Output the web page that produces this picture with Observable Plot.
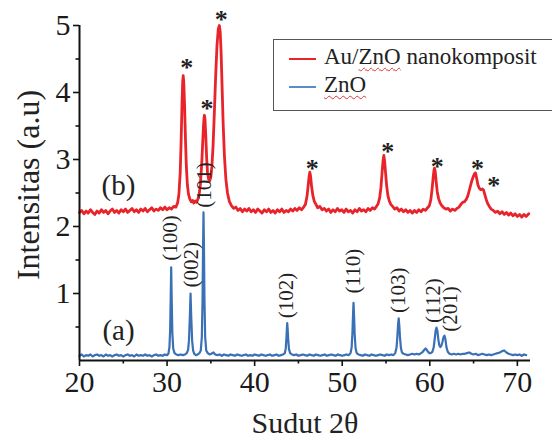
<!DOCTYPE html>
<html><head><meta charset="utf-8">
<script src="https://cdn.jsdelivr.net/npm/d3@7"></script>
<script src="https://cdn.jsdelivr.net/npm/@observablehq/plot@0.6"></script>
<style>
html,body{margin:0;padding:0;background:#fff;overflow:hidden;}
#wrap{position:relative;width:552px;height:442px;font-family:"Liberation Serif","Times New Roman",serif;overflow:hidden;}
#legend{position:absolute;left:273px;top:39px;width:320px;height:72px;border:1.5px solid #555;box-sizing:border-box;background:#fff;}
#legend .ln{position:absolute;left:15px;width:27px;height:2px;}
#legend .tx{position:absolute;left:50px;font-size:23px;line-height:23px;color:#222;white-space:nowrap;}
.sq{text-decoration:underline wavy #e0343a;text-decoration-thickness:1px;text-underline-offset:3px;}
</style>
</head><body>
<div id="wrap"><div id="chart"></div>
<div id="legend">
  <div class="ln" style="top:18px;background:#e8242a"></div>
  <div class="tx" style="top:5px">Au/<span class="sq">ZnO</span> nanokomposit</div>
  <div class="ln" style="top:46px;background:#5a8ccc"></div>
  <div class="tx" style="top:33px"><span class="sq">ZnO</span></div>
</div>
</div>
<script>
// Au/ZnO nanokomposit (curve b): [2θ, intensity]
const auZnO = [
[20.0,2.21],[20.25,2.24],[20.5,2.19],[20.75,2.23],[21.0,2.20],[21.25,2.25],[21.5,2.21],[21.75,2.18],[22.0,2.23],[22.25,2.20],
[22.5,2.25],[22.75,2.21],[23.0,2.24],[23.25,2.19],[23.5,2.23],[23.75,2.26],[24.0,2.21],[24.25,2.24],[24.5,2.20],[24.75,2.25],
[25.0,2.22],[25.25,2.26],[25.5,2.21],[25.75,2.24],[26.0,2.27],[26.25,2.22],[26.5,2.25],[26.75,2.21],[27.0,2.26],[27.25,2.23],
[27.5,2.27],[27.75,2.22],[28.0,2.25],[28.25,2.28],[28.5,2.23],[28.75,2.26],[29.0,2.24],[29.25,2.28],[29.5,2.25],[29.75,2.29],
[30.0,2.25],[30.25,2.28],[30.5,2.26],[30.75,2.30],[31.0,2.29],[31.2,2.35],[31.35,2.48],[31.5,2.80],[31.6,3.25],[31.7,3.80],
[31.78,4.15],[31.84,4.25],[31.9,4.17],[32.0,3.80],[32.1,3.30],[32.2,2.90],[32.32,2.62],[32.45,2.48],[32.6,2.41],[32.75,2.37],
[32.9,2.39],[33.05,2.35],[33.2,2.38],[33.35,2.36],[33.5,2.40],[33.65,2.47],[33.8,2.62],[33.95,2.92],[34.05,3.20],[34.15,3.48],
[34.22,3.62],[34.27,3.66],[34.33,3.60],[34.42,3.35],[34.52,3.02],[34.62,2.80],[34.75,2.70],[34.87,2.68],[35.0,2.74],[35.12,2.90],
[35.25,3.20],[35.4,3.70],[35.55,4.25],[35.7,4.70],[35.85,4.95],[35.97,5.00],[36.07,4.90],[36.17,4.60],[36.28,4.10],[36.4,3.55],
[36.55,3.05],[36.72,2.70],[36.9,2.50],[37.1,2.38],[37.35,2.31],[37.6,2.27],[37.85,2.29],[38.1,2.24],[38.35,2.27],[38.6,2.22],
[38.85,2.26],[39.1,2.23],[39.35,2.27],[39.6,2.22],[39.85,2.25],[40.1,2.21],[40.35,2.26],[40.6,2.23],[40.85,2.20],[41.1,2.25],
[41.35,2.22],[41.6,2.26],[41.85,2.21],[42.1,2.24],[42.35,2.20],[42.6,2.25],[42.85,2.22],[43.1,2.26],[43.35,2.21],[43.6,2.24],
[43.85,2.22],[44.1,2.26],[44.35,2.23],[44.6,2.27],[44.85,2.24],[45.1,2.28],[45.35,2.25],[45.6,2.29],[45.8,2.33],[45.98,2.45],
[46.12,2.62],[46.22,2.75],[46.3,2.81],[46.38,2.76],[46.5,2.60],[46.65,2.46],[46.8,2.38],[47.0,2.33],[47.2,2.28],[47.45,2.30],
[47.7,2.25],[47.95,2.27],[48.2,2.23],[48.45,2.26],[48.7,2.21],[48.95,2.25],[49.2,2.22],[49.45,2.27],[49.7,2.23],[49.95,2.25],
[50.2,2.21],[50.45,2.26],[50.7,2.22],[50.95,2.24],[51.2,2.20],[51.45,2.25],[51.7,2.22],[51.95,2.27],[52.2,2.23],[52.45,2.25],
[52.7,2.22],[52.95,2.27],[53.2,2.24],[53.45,2.28],[53.7,2.26],[53.9,2.30],[54.1,2.34],[54.28,2.43],[54.42,2.58],[54.55,2.80],
[54.66,2.98],[54.75,3.06],[54.84,2.98],[54.95,2.80],[55.08,2.60],[55.22,2.46],[55.38,2.38],[55.55,2.33],[55.75,2.30],[56.0,2.26],
[56.25,2.28],[56.5,2.23],[56.75,2.26],[57.0,2.22],[57.25,2.25],[57.5,2.21],[57.75,2.24],[58.0,2.20],[58.25,2.24],[58.5,2.21],
[58.75,2.25],[59.0,2.22],[59.25,2.26],[59.5,2.24],[59.75,2.28],[59.95,2.31],[60.12,2.40],[60.27,2.57],[60.4,2.75],[60.48,2.84],
[60.54,2.87],[60.62,2.82],[60.72,2.68],[60.85,2.52],[61.0,2.42],[61.18,2.35],[61.38,2.31],[61.6,2.28],[61.85,2.26],[62.1,2.27],
[62.35,2.23],[62.6,2.26],[62.85,2.24],[63.1,2.27],[63.35,2.29],[63.55,2.33],[63.75,2.36],[63.95,2.37],[64.15,2.40],[64.35,2.46],
[64.55,2.56],[64.75,2.66],[64.95,2.74],[65.12,2.79],[65.22,2.80],[65.35,2.72],[65.5,2.62],[65.65,2.57],[65.82,2.55],[66.0,2.56],
[66.15,2.54],[66.3,2.47],[66.45,2.40],[66.62,2.34],[66.8,2.30],[67.0,2.26],[67.25,2.24],[67.5,2.21],[67.75,2.23],[68.0,2.19],
[68.25,2.22],[68.5,2.18],[68.75,2.21],[69.0,2.17],[69.25,2.20],[69.5,2.16],[69.75,2.19],[70.0,2.15],[70.25,2.18],[70.5,2.14],
[70.75,2.18],[71.0,2.15],[71.3,2.19]
];
// ZnO (curve a): [2θ, intensity]
const znO = [
[20.0,0.07],[20.25,0.09],[20.5,0.06],[20.75,0.08],[21.0,0.07],[21.25,0.09],[21.5,0.06],[21.75,0.08],[22.0,0.09],[22.25,0.07],
[22.5,0.08],[22.75,0.06],[23.0,0.09],[23.25,0.07],[23.5,0.08],[23.75,0.06],[24.0,0.08],[24.25,0.09],[24.5,0.07],[24.75,0.08],
[25.0,0.06],[25.25,0.08],[25.5,0.09],[25.75,0.07],[26.0,0.08],[26.25,0.06],[26.5,0.09],[26.75,0.07],[27.0,0.08],[27.25,0.07],
[27.5,0.09],[27.75,0.07],[28.0,0.08],[28.25,0.06],[28.5,0.08],[28.75,0.09],[29.0,0.07],[29.25,0.08],[29.5,0.07],[29.75,0.09],
[30.0,0.08],[30.15,0.10],[30.27,0.20],[30.35,0.45],[30.41,0.90],[30.47,1.39],[30.53,0.90],[30.6,0.42],[30.7,0.18],[30.85,0.11],
[31.05,0.09],[31.3,0.08],[31.55,0.09],[31.8,0.08],[32.05,0.09],[32.25,0.11],[32.4,0.16],[32.5,0.30],[32.6,0.65],[32.68,1.00],
[32.76,0.65],[32.86,0.30],[32.97,0.15],[33.1,0.10],[33.3,0.08],[33.5,0.09],[33.7,0.11],[33.85,0.15],[33.97,0.35],[34.05,0.90],
[34.11,1.70],[34.16,2.21],[34.21,1.70],[34.27,0.90],[34.35,0.35],[34.47,0.15],[34.65,0.11],[34.85,0.09],[35.05,0.10],[35.3,0.12],
[35.5,0.09],[35.75,0.08],[36.0,0.09],[36.25,0.07],[36.5,0.09],[36.75,0.08],[37.0,0.07],[37.25,0.09],[37.5,0.08],[37.75,0.07],
[38.0,0.09],[38.25,0.08],[38.5,0.07],[38.75,0.08],[39.0,0.09],[39.25,0.07],[39.5,0.08],[39.75,0.07],[40.0,0.09],[40.25,0.08],
[40.5,0.07],[40.75,0.09],[41.0,0.08],[41.25,0.07],[41.5,0.08],[41.75,0.09],[42.0,0.07],[42.25,0.08],[42.5,0.09],[42.75,0.07],
[43.0,0.08],[43.25,0.09],[43.45,0.11],[43.55,0.18],[43.63,0.33],[43.68,0.47],[43.72,0.56],[43.77,0.47],[43.83,0.32],[43.92,0.17],
[44.05,0.11],[44.25,0.09],[44.5,0.08],[44.75,0.09],[45.0,0.07],[45.25,0.08],[45.5,0.09],[45.75,0.08],[46.0,0.07],[46.25,0.09],
[46.5,0.08],[46.75,0.07],[47.0,0.09],[47.25,0.08],[47.5,0.07],[47.75,0.08],[48.0,0.09],[48.25,0.07],[48.5,0.08],[48.75,0.09],
[49.0,0.08],[49.25,0.07],[49.5,0.09],[49.75,0.08],[50.0,0.07],[50.25,0.08],[50.5,0.09],[50.75,0.08],[50.95,0.11],[51.08,0.20],
[51.17,0.42],[51.24,0.70],[51.29,0.86],[51.35,0.68],[51.42,0.40],[51.52,0.19],[51.65,0.11],[51.85,0.09],[52.1,0.08],[52.35,0.07],
[52.6,0.09],[52.85,0.08],[53.1,0.07],[53.35,0.09],[53.6,0.08],[53.85,0.07],[54.1,0.08],[54.35,0.09],[54.6,0.08],[54.85,0.07],
[55.1,0.09],[55.35,0.08],[55.6,0.09],[55.85,0.08],[56.05,0.11],[56.2,0.19],[56.3,0.36],[56.38,0.54],[56.45,0.63],[56.52,0.52],
[56.6,0.34],[56.7,0.19],[56.82,0.12],[57.0,0.10],[57.25,0.09],[57.5,0.08],[57.75,0.09],[58.0,0.10],[58.25,0.09],[58.5,0.10],
[58.75,0.09],[59.0,0.11],[59.2,0.13],[59.38,0.16],[59.52,0.18],[59.65,0.16],[59.8,0.13],[59.95,0.11],[60.1,0.11],[60.3,0.13],
[60.45,0.20],[60.57,0.33],[60.67,0.45],[60.77,0.49],[60.87,0.44],[60.97,0.32],[61.08,0.23],[61.2,0.20],[61.32,0.22],[61.45,0.28],
[61.57,0.35],[61.68,0.37],[61.78,0.32],[61.9,0.20],[62.05,0.13],[62.25,0.10],[62.5,0.09],[62.75,0.10],[63.0,0.09],[63.25,0.10],
[63.5,0.09],[63.75,0.10],[64.0,0.10],[64.25,0.11],[64.5,0.12],[64.75,0.10],[65.0,0.09],[65.25,0.10],[65.5,0.08],[65.75,0.09],
[66.0,0.10],[66.25,0.09],[66.5,0.08],[66.75,0.09],[67.0,0.08],[67.25,0.09],[67.5,0.10],[67.75,0.11],[68.0,0.12],[68.25,0.14],
[68.5,0.15],[68.75,0.12],[69.0,0.10],[69.25,0.09],[69.5,0.08],[69.75,0.09],[70.0,0.08],[70.25,0.09],[70.5,0.07],[70.75,0.09],
[71.0,0.08]
];
// Miller-index labels for ZnO peaks
const hklNames = ["(100)","(002)","(101)","(102)","(110)","(103)","(112)","(201)"];
const hkl2theta = [30.35, 32.76, 34.27, 43.66, 51.29, 56.4, 60.45, 62.3];
const hklBase = [1.49, 1.09, 2.28, 0.63, 1.0, 0.71, 0.56, 0.43];
// Asterisk markers on Au/ZnO peaks
const starX = [32.25, 34.55, 36.2, 46.57, 55.2, 60.85, 65.45, 67.3];
const starY = [4.45, 3.84, 5.16, 2.94, 3.19, 2.97, 2.94, 2.69];
// Curve tags
const tagNames = ["(a)", "(b)"];
const tagX = [24.45, 24.45];
const tagY = [0.45, 2.61];
// Axis ticks
const xTicks = [20, 30, 40, 50, 60, 70];
const xMinor = [25, 35, 45, 55, 65];
const yTicks = [1, 2, 3, 4, 5];
const yMinor = [0.5, 1.5, 2.5, 3.5, 4.5];
const xTitle = "Sudut 2θ";
const yTitle = "Intensitas (a.u)";

const chart = Plot.plot({
  width: 552, height: 442,
  marginLeft: 79, marginRight: 22, marginTop: 25, marginBottom: 82,
  x: {domain: [20, 71.5]},
  y: {domain: [0, 5]},
  style: {fontFamily: '"Liberation Serif", "Times New Roman", serif', background: "white", color: "#1a1a1a", overflow: "visible"},
  marks: [
    Plot.line(znO, {x: d => d[0], y: d => d[1], stroke: "#3a70b5", strokeWidth: 2.2}),
    Plot.line(auZnO, {x: d => d[0], y: d => d[1], stroke: "#e8242a", strokeWidth: 2.8}),
    Plot.ruleX([20], {stroke: "#111", strokeWidth: 2}),
    Plot.ruleY([0], {stroke: "#111", strokeWidth: 2}),
    Plot.axisX({ticks: xTicks, tickFormat: d => String(d), tickSize: 6, tickPadding: 4, fontSize: 30, label: null, strokeWidth: 1.6, stroke: "#111"}),
    Plot.axisX({ticks: xMinor, tickSize: 3.5, text: null, label: null, strokeWidth: 1.6, stroke: "#111"}),
    Plot.axisY({ticks: yTicks, tickFormat: d => String(d), tickSize: 6, tickPadding: 3, fontSize: 30, label: null, strokeWidth: 1.6, stroke: "#111"}),
    Plot.axisY({ticks: yMinor, tickSize: 3.5, text: null, label: null, strokeWidth: 1.6, stroke: "#111"}),
    Plot.text(hklNames, {x: (d, i) => hkl2theta[i], y: (d, i) => hklBase[i], text: d => d, rotate: -90, textAnchor: "start", lineAnchor: "middle", fontSize: 21, fill: "#222"}),
    Plot.text(starX, {x: d => d, y: (d, i) => starY[i], text: () => "*", fontSize: 26, fontWeight: "bold", dy: 5, fill: "#222"}),
    Plot.text(tagNames, {x: (d, i) => tagX[i], y: (d, i) => tagY[i], text: d => d, fontSize: 29, fill: "#222"}),
    Plot.text([yTitle], {frameAnchor: "left", text: d => d, rotate: -90, textAnchor: "middle", lineAnchor: "middle", dx: -51, dy: -8, fontSize: 32, fill: "#222"}),
    Plot.text([xTitle], {frameAnchor: "bottom", text: d => d, dy: 72, fontSize: 30, fill: "#222"})
  ]
});
document.getElementById("chart").appendChild(chart);
</script>
</body></html>
